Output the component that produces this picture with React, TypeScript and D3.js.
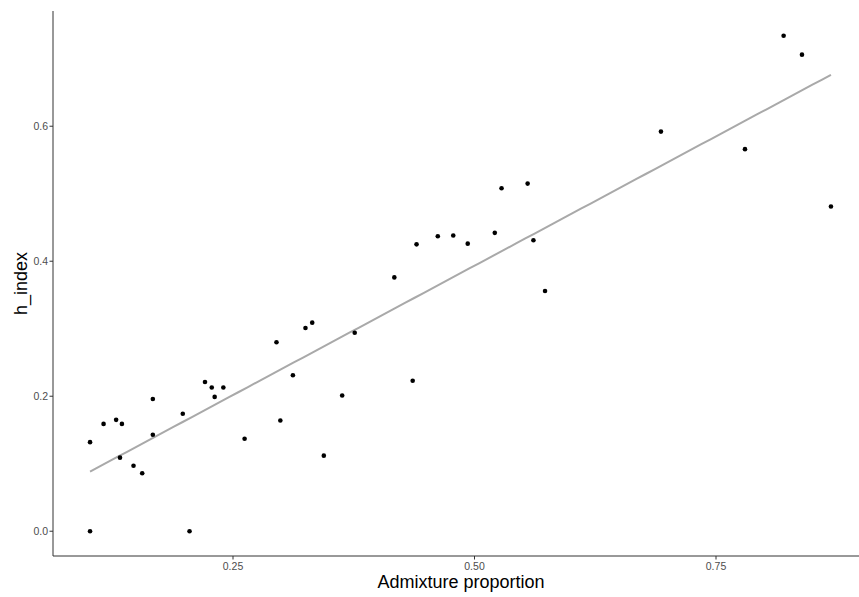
import React from "react";
import * as d3 from "d3";

// Admixture proportion per sample
const admixture = [
  0.102, 0.102, 0.116, 0.129, 0.135, 0.133, 0.147, 0.156, 0.167, 0.167,
  0.198, 0.205, 0.221, 0.228, 0.231, 0.240, 0.262, 0.295, 0.299, 0.312,
  0.325, 0.332, 0.344, 0.363, 0.376, 0.417, 0.436, 0.440, 0.462, 0.478,
  0.493, 0.521, 0.528, 0.555, 0.561, 0.573, 0.693, 0.780, 0.820, 0.839,
  0.869,
];

// h_index per sample
const hIndex = [
  0.132, 0.0, 0.159, 0.165, 0.159, 0.109, 0.097, 0.086, 0.196, 0.143,
  0.174, 0.0, 0.221, 0.213, 0.199, 0.213, 0.137, 0.280, 0.164, 0.231,
  0.301, 0.309, 0.112, 0.201, 0.294, 0.376, 0.223, 0.425, 0.437, 0.438,
  0.426, 0.442, 0.508, 0.515, 0.431, 0.356, 0.592, 0.566, 0.734, 0.706,
  0.481,
];

const xTicks = [0.25, 0.5, 0.75];
const xTickLabels = ["0.25", "0.50", "0.75"];
const yTicks = [0.0, 0.2, 0.4, 0.6];
const yTickLabels = ["0.0", "0.2", "0.4", "0.6"];

const W = 859;
const H = 597;
const panel = { left: 53, right: 868, top: 11, bottom: 556 };

// ggplot-style 5% expansion of the data range
function expand([lo, hi]: [number, number], f = 0.05): [number, number] {
  const d = (hi - lo) * f;
  return [lo - d, hi + d];
}

export default function App() {
  const points = admixture.map((x, i) => ({ x, y: hIndex[i] }));
  const xExt = d3.extent(admixture) as [number, number];
  const yExt = d3.extent(hIndex) as [number, number];

  const x = d3.scaleLinear().domain(expand(xExt)).range([panel.left, panel.right]);
  const y = d3.scaleLinear().domain(expand(yExt)).range([panel.bottom, panel.top]);

  // ordinary least squares fit
  const mx = d3.mean(admixture)!;
  const my = d3.mean(hIndex)!;
  const sxy = d3.sum(points, (p) => (p.x - mx) * (p.y - my));
  const sxx = d3.sum(points, (p) => (p.x - mx) ** 2);
  const slope = sxy / sxx;
  const intercept = my - slope * mx;
  const fitXs = d3.range(0, 81).map((i) => xExt[0] + ((xExt[1] - xExt[0]) * i) / 80);
  const fitLine = d3
    .line<number>()
    .x((v) => x(v))
    .y((v) => y(intercept + slope * v))(fitXs);

  const font = "'Liberation Sans', Arial, sans-serif";

  return (
    <svg
      width={W}
      height={H}
      style={{ position: "absolute", left: 0, top: 0, display: "block", background: "#fff" }}
      fontFamily={font}
    >
      <rect width={W} height={H} fill="#fff" />
      <path d={fitLine ?? ""} fill="none" stroke="#a9a9a9" strokeWidth={2} />
      {points.map((p, i) => (
        <circle key={i} cx={x(p.x)} cy={y(p.y)} r={2.3} fill="#000" />
      ))}

      {/* axes */}
      <line x1={panel.left} x2={panel.left} y1={panel.top} y2={panel.bottom} stroke="#333" strokeWidth={1} />
      <line x1={panel.left} x2={panel.right} y1={panel.bottom} y2={panel.bottom} stroke="#333" strokeWidth={1} />

      {xTicks.map((t, i) => (
        <g key={t}>
          <line x1={x(t)} x2={x(t)} y1={panel.bottom} y2={panel.bottom + 3.5} stroke="#333" />
          <text x={x(t)} y={569.5} textAnchor="middle" fontSize={10.5} fill="#4d4d4d">
            {xTickLabels[i]}
          </text>
        </g>
      ))}
      {yTicks.map((t, i) => (
        <g key={t}>
          <line x1={panel.left - 3.5} x2={panel.left} y1={y(t)} y2={y(t)} stroke="#333" />
          <text x={48} y={y(t)} dy="0.35em" textAnchor="end" fontSize={10.5} fill="#4d4d4d">
            {yTickLabels[i]}
          </text>
        </g>
      ))}

      <text x={461} y={588} textAnchor="middle" fontSize={18} fill="#000">
        Admixture proportion
      </text>
      <text
        transform={`translate(27, ${(panel.top + panel.bottom) / 2}) rotate(-90)`}
        textAnchor="middle"
        fontSize={18}
        fill="#000"
      >
        h_index
      </text>
    </svg>
  );
}
